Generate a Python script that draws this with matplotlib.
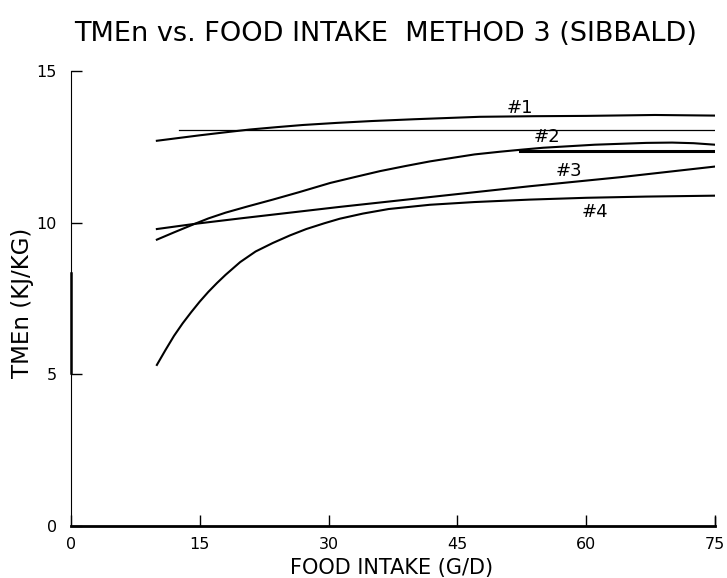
import matplotlib
matplotlib.use("Agg")
import matplotlib.pyplot as plt

plt.rcParams.update({
    "font.family": ["DejaVu Sans"],
})

# curve #1
x1 = [10, 12.5, 15, 18, 20.8, 24, 27, 31, 35, 40, 47.6, 54, 60, 68, 75]
y1 = [12.70, 12.79, 12.88, 12.98, 13.07, 13.15, 13.22, 13.29, 13.35, 13.41,
      13.49, 13.51, 13.52, 13.55, 13.53]
# curve #2
x2 = [10, 12, 14.4, 16, 18, 20.5, 23.5, 26.5, 30.2, 33, 36, 39, 41.8, 44.5,
      47, 50, 52.6, 55, 58, 61, 64, 67, 70, 72.5, 75]
y2 = [9.44, 9.68, 9.96, 10.14, 10.33, 10.53, 10.76, 11.00, 11.31, 11.50,
      11.70, 11.87, 12.02, 12.14, 12.25, 12.34, 12.41, 12.47, 12.52, 12.57,
      12.60, 12.63, 12.64, 12.62, 12.57]
# curve #3
x3 = [10, 14.4, 20, 31.3, 42, 53.4, 64, 75]
y3 = [9.79, 9.96, 10.15, 10.52, 10.85, 11.20, 11.50, 11.85]
# curve #4
x4 = [10, 11, 12, 13, 14, 15, 16, 17, 18, 19.7, 21.5, 23.5, 25.5, 27.4,
      29.5, 31.3, 34, 37, 41.8, 47, 53.4, 60, 67, 75]
y4 = [5.31, 5.80, 6.27, 6.68, 7.05, 7.40, 7.72, 8.01, 8.28, 8.70, 9.05,
      9.33, 9.58, 9.79, 9.98, 10.13, 10.30, 10.45, 10.59, 10.68, 10.76,
      10.82, 10.86, 10.89]

# horizontal reference lines (start x, end x, level)
ref1 = (12.6, 75, 13.07)
ref2 = (52.3, 75, 12.35)

labels = ["#1", "#2", "#3", "#4"]
label_x = [52.3, 55.4, 58.0, 61.0]
label_y = [13.78, 12.82, 11.70, 10.35]

xticks = [0, 15, 30, 45, 60, 75]
yticks = [0, 5, 10, 15]

fig = plt.figure(figsize=(7.27, 5.78), dpi=100)
ax = fig.add_axes([71/727, 1 - 526/578, 644/727, 455/578])

for xs, ys in [(x1, y1), (x2, y2), (x3, y3), (x4, y4)]:
    ax.plot(xs, ys, color="black", lw=1.5, solid_joinstyle="round")

ax.plot([ref1[0], ref1[1]], [ref1[2], ref1[2]], color="black", lw=0.9)
ax.plot([ref2[0], ref2[1]], [ref2[2], ref2[2]], color="black", lw=2.2)

for t, lx, ly in zip(labels, label_x, label_y):
    ax.text(lx, ly, t, fontsize=13, ha="center", va="center")

ax.set_xlim(0, 75)
ax.set_ylim(0, 15)
ax.set_xticks(xticks)
ax.set_yticks(yticks)
ax.tick_params(direction="in", length=8, width=1.0, labelsize=11.5)
ax.tick_params(axis="x", pad=8)
ax.tick_params(axis="y", pad=10)

for s in ["top", "right"]:
    ax.spines[s].set_visible(False)
ax.spines["left"].set_linewidth(0.8)
ax.spines["bottom"].set_linewidth(2.0)
# thicker stretch of the left axis line as in the original plot
ax.plot([0, 0], [5.05, 8.35], color="black", lw=1.8, clip_on=False)
# tick at right end
ax.plot([75, 75], [0, 0.3], color="black", lw=1.0, clip_on=False)

fig.text(386/727, 1 - 34/578, "TMEn vs. FOOD INTAKE  METHOD 3 (SIBBALD)",
         fontsize=19.5, ha="center", va="center")
fig.text(392/727, 1 - 568/578, "FOOD INTAKE (G/D)", fontsize=15,
         ha="center", va="center")
fig.text(23/727, 1 - 303/578, "TMEn (KJ/KG)", fontsize=16.5, rotation=90,
         ha="center", va="center")

fig.savefig("out.png", dpi=100)
